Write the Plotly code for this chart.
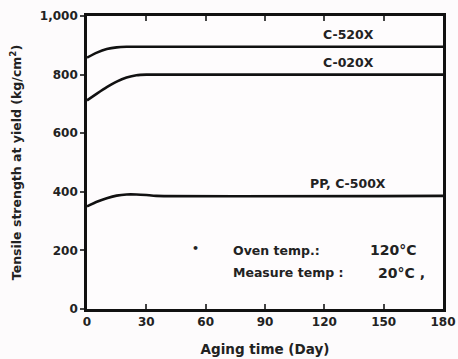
import plotly.graph_objects as go

# Data
days_c520 = [0, 5, 10, 15, 20, 180]
val_c520 = [858, 875, 887, 893, 895, 895]
days_c020 = [0, 5, 10, 15, 20, 25, 30, 180]
val_c020 = [712, 735, 757, 776, 790, 798, 800, 800]
days_pp = [0, 5, 10, 15, 20, 25, 30, 35, 180]
val_pp = [350, 366, 378, 387, 391, 391, 389, 386, 386]

x_ticks = [0, 30, 60, 90, 120, 150, 180]
y_ticks = [0, 200, 400, 600, 800, 1000]
y_ticktext = ["0", "200", "400", "600", "800", "1,000"]

FONT = "DejaVu Sans"
BF = lambda s: dict(family=FONT, size=s, color="#222", weight="bold")

fig = go.Figure()
for xs, ys in [(days_c520, val_c520), (days_c020, val_c020), (days_pp, val_pp)]:
    fig.add_trace(go.Scatter(x=xs, y=ys, mode="lines",
                             line=dict(color="#111111", width=2.6, shape="spline", smoothing=0.5),
                             showlegend=False, hoverinfo="skip"))

labels = [("C-520X", 132, 895), ("C-020X", 132, 800), ("PP, C-500X", 132, 386)]
for t, x, y in labels:
    fig.add_annotation(x=x, y=y, text=t, showarrow=False, yshift=12, font=BF(12.5))

fig.add_annotation(x=55, y=205, text="•", showarrow=False, font=BF(11))
fig.add_annotation(x=73, y=200, text="Oven temp.:", showarrow=False, xanchor="left", font=BF(12.5))
fig.add_annotation(x=142, y=200, text="120°C", showarrow=False, xanchor="left", font=BF(14))
fig.add_annotation(x=73, y=123, text="Measure temp :", showarrow=False, xanchor="left", font=BF(12.5))
fig.add_annotation(x=146, y=123, text="20°C ,", showarrow=False, xanchor="left", font=BF(14))

fig.update_layout(
    width=458, height=359,
    margin=dict(l=87, r=15, t=16, b=50, autoexpand=False),
    paper_bgcolor="#fdfbfc", plot_bgcolor="#fefcfd",
    font=dict(family=FONT, size=11, color="#222"),
    xaxis=dict(range=[0, 180], tickvals=x_ticks, ticks="inside", ticklen=5, tickwidth=2,
               showline=True, linewidth=2.6, linecolor="#111", mirror="ticks",
               showgrid=False, zeroline=False, automargin=False,
               tickfont=BF(12),
               title=dict(text="Aging time (Day)", font=BF(13.5), standoff=17)),
    yaxis=dict(range=[0, 1000], tickvals=y_ticks, ticktext=y_ticktext, ticks="outside", ticklen=4,
               tickwidth=1.5, showline=True, linewidth=2.6, linecolor="#111", mirror=True,
               showgrid=False, zeroline=False, automargin=False,
               tickfont=BF(12),
               title=dict(text="Tensile strength at yield (kg/cm<sup>2</sup>)",
                          font=BF(12.5), standoff=16)),
)

# remove the default 8px page margin so the figure fills the window exactly
fig.write_html("out.html",
               config={"displayModeBar": False},
               post_script="document.body.style.margin='0';document.body.style.overflow='hidden';")
